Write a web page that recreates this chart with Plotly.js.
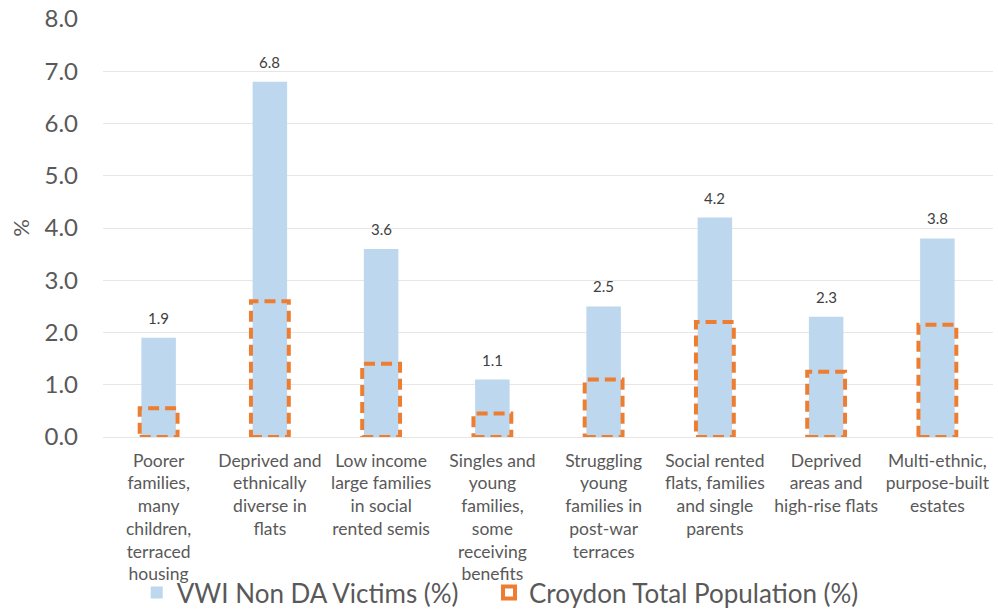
<!DOCTYPE html>
<html>
<head>
<meta charset="utf-8">
<script src="https://cdn.plot.ly/plotly-3.0.1.min.js"></script>
<style>
  html, body { margin: 0; padding: 0; background: #ffffff; }
  #chart { width: 998px; height: 616px; }
</style>
</head>
<body>
<div id="chart"></div>
<script>
// Area classification groups
const categories = [
  "Poorer<br>families,<br>many<br>children,<br>terraced<br>housing",
  "Deprived and<br>ethnically<br>diverse in<br>flats",
  "Low income<br>large families<br>in social<br>rented semis",
  "Singles and<br>young<br>families,<br>some<br>receiving<br>benefits",
  "Struggling<br>young<br>families in<br>post-war<br>terraces",
  "Social rented<br>flats, families<br>and single<br>parents",
  "Deprived<br>areas and<br>high-rise flats",
  "Multi-ethnic,<br>purpose-built<br>estates"
];

// Share of VWI non-DA victims in each group (%)
const vwiValues = [1.9, 6.8, 3.6, 1.1, 2.5, 4.2, 2.3, 3.8];

// Share of Croydon total population in each group (%)
const croydonValues = [0.55, 2.6, 1.4, 0.45, 1.1, 2.2, 1.25, 2.15];

const yTicks = [0, 1, 2, 3, 4, 5, 6, 7, 8];

const BLUE = "#bdd7ee";
const ORANGE = "#ed7d31";
const FONT = "Lato, 'Open Sans', sans-serif";

const vwiTrace = {
  type: "bar",
  name: "VWI Non DA Victims (%)",
  x: categories,
  y: vwiValues,
  width: 0.31,
  marker: { color: BLUE, line: { width: 0 } },
  legend: "legend",
  hoverinfo: "x+y"
};

// Value labels sitting above each blue bar
const valueLabels = vwiValues.map((v, i) => ({
  xref: "x",
  yref: "y",
  x: i,
  y: v,
  text: v.toFixed(1),
  showarrow: false,
  yanchor: "bottom",
  yshift: 9,
  font: { family: FONT, size: 15, color: "#404040" }
}));

// Dashed outline boxes for the population share, placed on the category index
const boxHalf = 0.17;
const croydonShapes = croydonValues.map((v, i) => ({
  type: "rect",
  xref: "x",
  yref: "y",
  x0: i - boxHalf,
  x1: i + boxHalf,
  y0: 0,
  y1: v,
  line: { color: ORANGE, width: 4, dash: "11px,6px" },
  fillcolor: "rgba(0,0,0,0)",
  layer: "above",
  name: "Croydon Total Population (%)",
  legend: "legend2",
  showlegend: i === 0
}));

const legendFont = { family: FONT, size: 26, color: "#595959" };

const layout = {
  width: 998,
  height: 616,
  paper_bgcolor: "#ffffff",
  plot_bgcolor: "#ffffff",
  margin: { l: 103, r: 5, t: 19, b: 179 },
  font: { family: FONT, color: "#595959" },
  showlegend: true,
  xaxis: {
    type: "category",
    showgrid: false,
    showline: false,
    zeroline: false,
    ticks: "",
    tickangle: 0,
    ticklabelstandoff: 11,
    tickfont: { family: FONT, size: 17.5, color: "#595959" },
    automargin: false
  },
  yaxis: {
    range: [0, 8],
    tickvals: yTicks,
    tickformat: ".1f",
    showgrid: true,
    gridcolor: "#e6e6e6",
    gridwidth: 1,
    zeroline: true,
    zerolinecolor: "#e6e6e6",
    zerolinewidth: 1,
    showline: false,
    ticks: "",
    ticklabelstandoff: 24,
    tickfont: { family: FONT, size: 24, color: "#595959" },
    title: { text: "%", font: { family: FONT, size: 22, color: "#595959" }, standoff: 8 },
    automargin: false
  },
  legend: {
    orientation: "h",
    xref: "container",
    yref: "container",
    x: 0.137,
    xanchor: "left",
    y: 0,
    yanchor: "bottom",
    font: legendFont,
    bgcolor: "rgba(0,0,0,0)"
  },
  legend2: {
    orientation: "h",
    xref: "container",
    yref: "container",
    x: 0.49,
    xanchor: "left",
    y: 0,
    yanchor: "bottom",
    font: legendFont,
    bgcolor: "rgba(0,0,0,0)"
  },
  annotations: valueLabels,
  shapes: croydonShapes
};

Plotly.newPlot("chart", [vwiTrace], layout, { displayModeBar: false, staticPlot: true });
</script>
</body>
</html>
